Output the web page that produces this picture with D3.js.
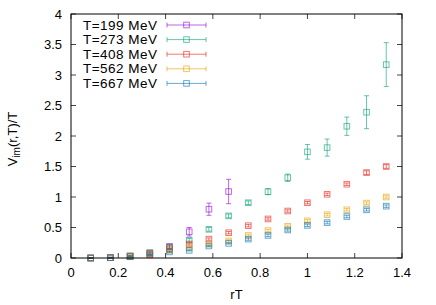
<!DOCTYPE html>
<html><head><meta charset="utf-8">
<script src="https://cdn.jsdelivr.net/npm/d3@7"></script>
<style>body{margin:0;background:#fff}svg{display:block;font-family:"Liberation Sans",Arial,sans-serif}</style>
</head><body><svg id="c" width="436" height="305"></svg>
<script>
const rT = [1/12,2/12,3/12,4/12,5/12,6/12,7/12,8/12,9/12,10/12,11/12,12/12,13/12,14/12,15/12,16/12];
const seriesNames = ["T=199 MeV","T=273 MeV","T=408 MeV","T=562 MeV","T=667 MeV"];
const colors = ["#9400d3","#009e73","#e51e10","#e69f00","#0072b2"];
const v199 = [0.0,0.005,0.03,0.08,0.19,0.43,0.80,1.09];
const e199 = [0.005,0.005,0.01,0.02,0.03,0.07,0.10,0.20];
const v273 = [0.0,0.005,0.035,0.09,0.18,0.29,0.47,0.69,0.906,1.087,1.316,1.74,1.81,2.16,2.39,3.17];
const e273 = [0.005,0.005,0.01,0.02,0.02,0.03,0.03,0.03,0.03,0.05,0.06,0.12,0.14,0.15,0.27,0.36];
const v408 = [0.0,0.005,0.03,0.07,0.15,0.23,0.31,0.415,0.53,0.64,0.77,0.906,1.044,1.21,1.40,1.50];
const e408 = [0.005,0.005,0.01,0.01,0.01,0.02,0.02,0.02,0.02,0.02,0.02,0.02,0.02,0.02,0.03,0.03];
const v562 = [0.0,0.005,0.025,0.06,0.12,0.17,0.225,0.28,0.37,0.45,0.52,0.61,0.71,0.79,0.90,1.0];
const e562 = [0.005,0.005,0.01,0.01,0.01,0.01,0.01,0.02,0.02,0.02,0.02,0.02,0.02,0.02,0.02,0.02];
const v667 = [0.0,0.005,0.02,0.05,0.10,0.125,0.197,0.24,0.31,0.37,0.46,0.535,0.58,0.68,0.79,0.85];
const e667 = [0.005,0.005,0.01,0.01,0.01,0.01,0.01,0.01,0.02,0.02,0.02,0.02,0.02,0.02,0.02,0.02];
const xTicks = [0,0.2,0.4,0.6,0.8,1,1.2,1.4];
const yTicks = [0,0.5,1,1.5,2,2.5,3,3.5,4];

const values = [v199,v273,v408,v562,v667];
const errors = [e199,e273,e408,e562,e667];

const svg = d3.select("#c");
const L=71,R=402,T=14,B=258;
const x = d3.scaleLinear().domain([0,1.4]).range([L,R]);
const y = d3.scaleLinear().domain([0,4]).range([B,T]);

// ticks
const tickCol="#444", tl=5;
const g = svg.append("g");
xTicks.forEach(t=>{
  g.append("line").attr("x1",x(t)).attr("x2",x(t)).attr("y1",B).attr("y2",B-tl).attr("stroke",tickCol);
  g.append("line").attr("x1",x(t)).attr("x2",x(t)).attr("y1",T).attr("y2",T+tl).attr("stroke",tickCol);
  g.append("text").attr("x",x(t)).attr("y",B+19).attr("text-anchor","middle").attr("font-size",13).text(d3.format("")(t));
});
yTicks.forEach(t=>{
  g.append("line").attr("x1",L).attr("x2",L+tl).attr("y1",y(t)).attr("y2",y(t)).attr("stroke",tickCol);
  g.append("line").attr("x1",R).attr("x2",R-tl).attr("y1",y(t)).attr("y2",y(t)).attr("stroke",tickCol);
  g.append("text").attr("x",L-9).attr("y",y(t)+4.5).attr("text-anchor","end").attr("font-size",13).text(d3.format("")(t));
});

// data
const cap=2.5, half=2.8;
values.forEach((vals,si)=>{
  const gs = svg.append("g").attr("stroke",colors[si]).attr("stroke-opacity",0.6).attr("fill","none");
  vals.forEach((v,i)=>{
    const px=x(rT[i]), e=errors[si][i];
    const y1=y(v-e), y2=y(v+e);
    gs.append("line").attr("x1",px).attr("x2",px).attr("y1",y1).attr("y2",y2);
    gs.append("line").attr("x1",px-cap).attr("x2",px+cap).attr("y1",y1).attr("y2",y1);
    gs.append("line").attr("x1",px-cap).attr("x2",px+cap).attr("y1",y2).attr("y2",y2);
    gs.append("rect").attr("x",px-half).attr("y",y(v)-half).attr("width",2*half).attr("height",2*half);
  });
});

// border
svg.append("rect").attr("x",L).attr("y",T).attr("width",R-L).attr("height",B-T).attr("fill","none").attr("stroke","#000");

// legend
seriesNames.forEach((n,i)=>{
  const cy = 25 + i*14.6;
  svg.append("text").attr("x",157).attr("y",cy+4.5).attr("text-anchor","end").attr("font-size",13.5)
    .attr("textLength",74).attr("lengthAdjust","spacing").text(n);
  const gl = svg.append("g").attr("stroke",colors[i]).attr("stroke-opacity",0.6).attr("fill","none");
  gl.append("line").attr("x1",167).attr("x2",206).attr("y1",cy).attr("y2",cy);
  gl.append("line").attr("x1",167).attr("x2",167).attr("y1",cy-cap).attr("y2",cy+cap);
  gl.append("line").attr("x1",206).attr("x2",206).attr("y1",cy-cap).attr("y2",cy+cap);
  gl.append("rect").attr("x",186.5-half).attr("y",cy-half).attr("width",2*half).attr("height",2*half);
});

// axis labels
svg.append("text").attr("x",(L+R)/2).attr("y",299).attr("text-anchor","middle").attr("font-size",13).text("rT");
const yl = svg.append("text").attr("transform","translate(17,139) rotate(-90)").attr("text-anchor","middle").attr("font-size",13);
yl.append("tspan").text("V");
yl.append("tspan").attr("font-size",10).attr("dy",3).text("im");
yl.append("tspan").attr("dy",-3).text("(r,T)/T");
</script></body></html>
